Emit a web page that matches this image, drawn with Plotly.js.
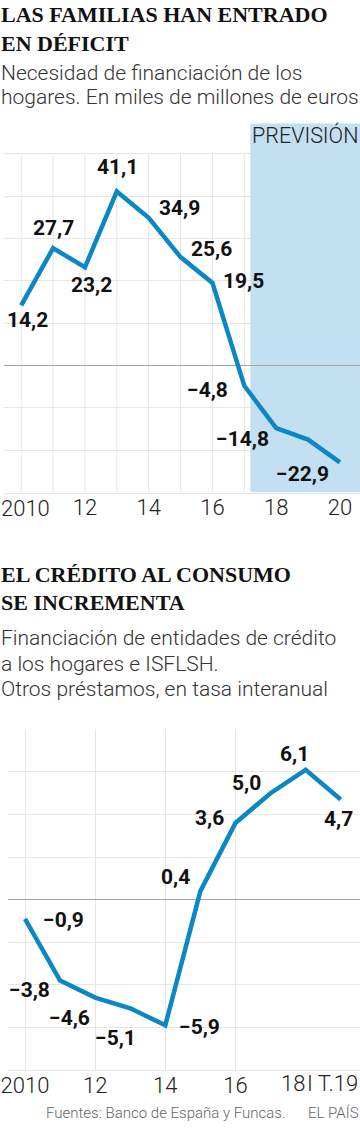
<!DOCTYPE html>
<html>
<head>
<meta charset="utf-8">
<script src="https://cdn.plot.ly/plotly-3.0.1.min.js"></script>
<style>
  html, body { margin: 0; padding: 0; background: #fff; }
  #chart { width: 360px; height: 1132px; }
</style>
</head>
<body>
<div id="chart"></div>
<script>
// ---------- Data ----------
// Chart 1: Necesidad de financiación de los hogares (miles de millones de euros)
const years1 = [2010, 2011, 2012, 2013, 2014, 2015, 2016, 2017, 2018, 2019, 2020];
const values1 = [14.2, 27.7, 23.2, 41.1, 34.9, 25.6, 19.5, -4.8, -14.8, -17.5, -22.9];
const showLabel1 = [true, true, true, true, true, true, true, true, true, false, true];
const forecastFrom = 2017.19;
const tickVals1 = [2010, 2012, 2014, 2016, 2018, 2020];
const tickText1 = ['2010', '12', '14', '16', '18', '20'];

// Chart 2: Crédito al consumo, tasa interanual (%)
const periods2 = ['2010', '2011', '2012', '2013', '2014', '2015', '2016', '2017', '2018', 'I T.19'];
const values2 = [-0.9, -3.8, -4.6, -5.1, -5.9, 0.4, 3.6, 5.0, 6.1, 4.7];
const tickIdx2 = [0, 2, 4, 6, 8, 9];
const tickText2 = ['2010', '12', '14', '16', '18', 'I T.19'];

// ---------- Styling / placement (not data) ----------
const W = 360, H = 1132;
const BLUE = '#0b87c3';
const SHADE = '#c3e0f2';
const GRID = '#e6e6e6';
const ZERO = '#a3a3a3';
const SANS = 'Roboto, "Noto Sans", sans-serif';
const SERIF = '"Liberation Serif", "DejaVu Serif", serif';

// label offsets in px (xshift, yshift) per point
const shift1 = [[6,-15],[0,20],[7,-18],[1,24],[31,10],[31,8],[31,2],[-37,-4],[-34,-11],null,[-37,-12]];
const shift2 = [[38,-1],[-31,-9],[-26,-20],[-15,-30],[34,-2],[-25,14],[-26,5],[-24,10],[-11,16],[-2,-19]];

const px = x => x / W;
const py = y => 1 - y / H;
const fmt = v => (v < 0 ? '\u2212' : '') + Math.abs(v).toFixed(1).replace('.', ',');

const idx2 = periods2.map((_, i) => i);

const traces = [
  { x: years1, y: values1, xaxis: 'x', yaxis: 'y', type: 'scatter', mode: 'lines',
    line: { color: BLUE, width: 4.5 }, hoverinfo: 'skip' },
  { x: idx2, y: values2, xaxis: 'x2', yaxis: 'y2', type: 'scatter', mode: 'lines',
    line: { color: BLUE, width: 4.5 }, hoverinfo: 'skip' }
];

const annotations = [];
function textLine(text, xPx, yPx, size, opts) {
  annotations.push(Object.assign({
    xref: 'paper', yref: 'paper', x: px(xPx), y: py(yPx), text: text,
    showarrow: false, xanchor: 'left', yanchor: 'middle', borderpad: 0,
    font: { family: SANS, size: size, color: '#333', weight: 300 }
  }, opts || {}));
}
// Titles
const titleFont = { family: SERIF, size: 22, color: '#111', weight: 700 };
textLine('LAS FAMILIAS HAN ENTRADO', 0, 14.2, 22, { font: titleFont });
textLine('EN DÉFICIT', 0, 43.7, 22, { font: titleFont });
textLine('Necesidad de financiación de los', 0, 73.3, 21);
textLine('hogares. En miles de millones de euros', 0, 96.7, 21);

textLine('EL CRÉDITO AL CONSUMO', 0, 574.2, 22, { font: titleFont });
textLine('SE INCREMENTA', 0, 602.5, 22, { font: titleFont });
textLine('Financiación de entidades de crédito', 0, 638.3, 21);
textLine('a los hogares e ISFLSH.', 0, 664.3, 21);
textLine('Otros préstamos, en tasa interanual', 0, 689.2, 21);

textLine('Fuentes: Banco de España y Funcas.', 45, 1112.5, 15, { font: { family: SANS, size: 15, color: '#666', weight: 300 } });
textLine('EL PAÍS', 307, 1112.5, 15, { font: { family: SANS, size: 15, color: '#666', weight: 300 } });

// Forecast label
annotations.push({
  xref: 'x', yref: 'paper', x: forecastFrom, y: py(134.8), text: 'PREVISIÓN',
  showarrow: false, xanchor: 'left', yanchor: 'middle', xshift: 1, borderpad: 0,
  font: { family: SANS, size: 21.5, color: '#222', weight: 300 }
});

// Data labels
const labelFont = { family: SANS, size: 21, color: '#111', weight: 700 };
years1.forEach((yr, i) => {
  if (!showLabel1[i]) return;
  annotations.push({ xref: 'x', yref: 'y', x: yr, y: values1[i], text: fmt(values1[i]),
    showarrow: false, xanchor: 'center', yanchor: 'middle',
    xshift: shift1[i][0], yshift: shift1[i][1], font: labelFont });
});
idx2.forEach((xi, i) => {
  annotations.push({ xref: 'x2', yref: 'y2', x: xi, y: values2[i], text: fmt(values2[i]),
    showarrow: false, xanchor: 'center', yanchor: 'middle',
    xshift: shift2[i][0], yshift: shift2[i][1], font: labelFont });
});

// Edge tick labels drawn as annotations (nudged inside the frame, as in the original)
const tickFont = { family: SANS, size: 22, color: '#222', weight: 300 };
// chart 1: first tick label, left-aligned to the page edge
annotations.push({ xref: 'paper', yref: 'paper', x: 0, y: py(508), text: tickText1[0],
  showarrow: false, xanchor: 'left', yanchor: 'middle', borderpad: 0, font: tickFont });
// chart 2: last two tick labels, right-aligned
annotations.push({ xref: 'x2', yref: 'paper', x: tickIdx2[4], y: py(1083.5), text: tickText2[4],
  showarrow: false, xanchor: 'right', yanchor: 'middle', borderpad: 0, xshift: 0, font: tickFont });
annotations.push({ xref: 'paper', yref: 'paper', x: 1, y: py(1083.5), text: tickText2[5],
  showarrow: false, xanchor: 'right', yanchor: 'middle', borderpad: 0, xshift: -1, font: tickFont });

// Shapes
const y1Range = [-30, 57.2];
const shapes = [];
years1.forEach(yr => shapes.push({ type: 'line', xref: 'x', yref: 'y', x0: yr, x1: yr, y0: -30, y1: 50,
  line: { color: GRID, width: 1 }, layer: 'below' }));
shapes.push({ type: 'rect', xref: 'x', yref: 'y', x0: forecastFrom, x1: 2030, y0: y1Range[0], y1: y1Range[1],
  fillcolor: SHADE, line: { width: 0 }, layer: 'between' });
shapes.push({ type: 'line', xref: 'x', yref: 'y', x0: 2000, x1: 2030, y0: 0, y1: 0,
  line: { color: ZERO, width: 1 }, layer: 'between' });

const layout = {
  width: W, height: H,
  margin: { l: 0, r: 0, t: 0, b: 0 },
  paper_bgcolor: '#fff', plot_bgcolor: 'rgba(0,0,0,0)',
  showlegend: false,
  xaxis: {
    domain: [px(4), 1], range: [2009.46, 2020.63], anchor: 'y',
    tickvals: tickVals1.slice(1), ticktext: tickText1.slice(1), tickfont: tickFont, tickangle: 0,
    showgrid: false, zeroline: false, showline: true, linecolor: GRID, linewidth: 1,
    ticks: '', ticklabelstandoff: -5, ticklabeloverflow: 'allow', fixedrange: true
  },
  yaxis: {
    domain: [py(492.5), py(123.3)], range: y1Range, anchor: 'x',
    dtick: 10, tick0: 0, showticklabels: false, ticks: '',
    showgrid: true, gridcolor: GRID, gridwidth: 1,
    zeroline: true, zerolinecolor: ZERO, zerolinewidth: 1, fixedrange: true
  },
  xaxis2: {
    domain: [px(8.3), 1], range: [-0.476, 9.55], anchor: 'y2',
    tickvals: tickIdx2.slice(0, 4), ticktext: tickText2.slice(0, 4), tickfont: tickFont, tickangle: 0,
    showgrid: true, gridcolor: GRID, gridwidth: 1, dtick: 1, tick0: 0,
    zeroline: false, showline: true, linecolor: GRID, linewidth: 1,
    ticks: '', ticklabelstandoff: -4, ticklabeloverflow: 'allow', fixedrange: true
  },
  yaxis2: {
    domain: [py(1070), py(729.3)], range: [-8, 8], anchor: 'x2',
    dtick: 2, tick0: 0, showticklabels: false, ticks: '',
    showgrid: true, gridcolor: GRID, gridwidth: 1,
    zeroline: true, zerolinecolor: ZERO, zerolinewidth: 1, fixedrange: true
  },
  shapes: shapes,
  annotations: annotations
};

Plotly.newPlot('chart', traces, layout, { displayModeBar: false, staticPlot: true });
</script>
</body>
</html>
